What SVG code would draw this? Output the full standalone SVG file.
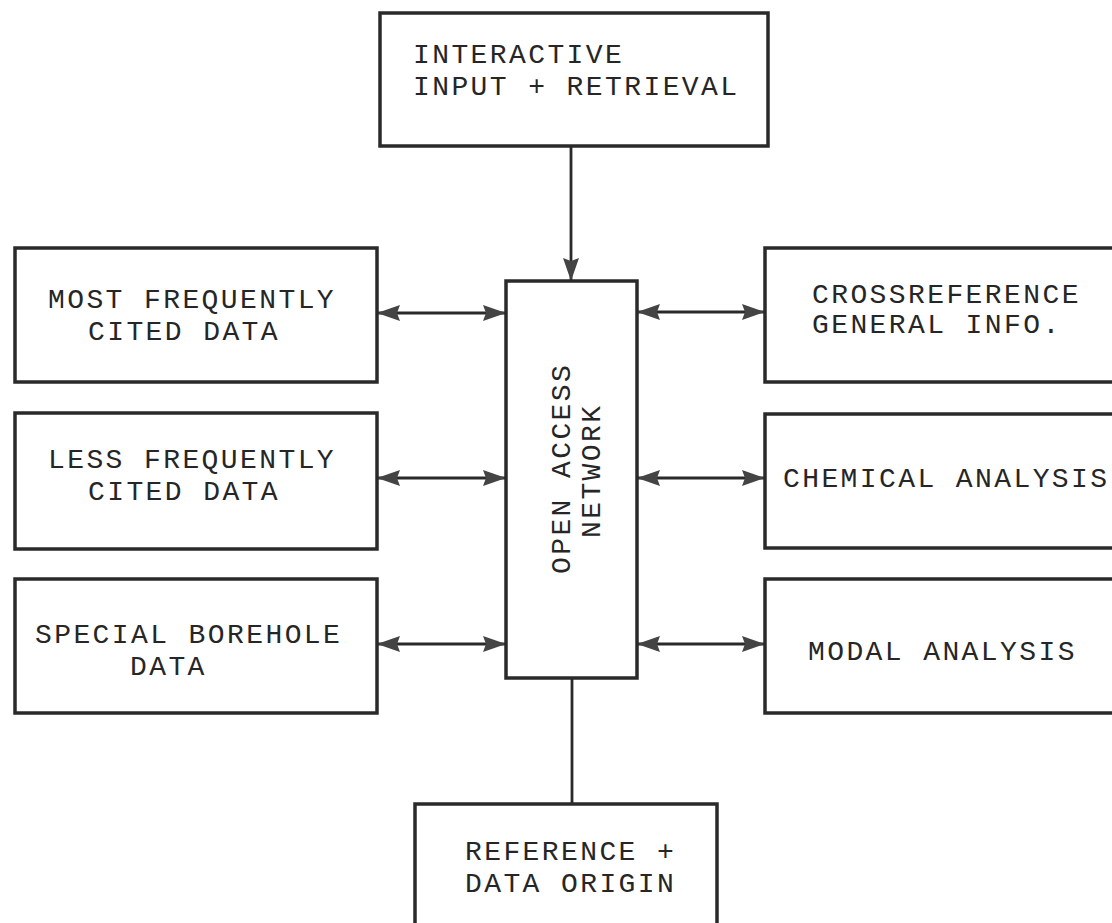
<svg xmlns="http://www.w3.org/2000/svg" width="1112" height="923" viewBox="0 0 1112 923">
<style>
.box{fill:#fff;stroke:#2a2a2a;stroke-width:3.5}
.t{font-family:"Liberation Mono","Courier New",monospace;font-size:28px;letter-spacing:2.4px;fill:#262626}
.c{stroke:#2a2a2a;stroke-width:2.8;fill:none}
</style>
<defs>
<marker id="ah" markerUnits="userSpaceOnUse" markerWidth="26" markerHeight="18" refX="23" refY="8" orient="auto-start-reverse" viewBox="0 0 26 18">
<path d="M0,0 L23,8 L0,16 L3,8 z" fill="#444"/>
</marker>
</defs>
<rect width="1112" height="923" fill="#fff"/>
<g id="connectors">
<line class="c" x1="571" y1="146" x2="571" y2="281" marker-end="url(#ah)"/>
<line class="c" x1="572" y1="678" x2="572" y2="804"/>
<line class="c" x1="377" y1="313" x2="506" y2="313" marker-start="url(#ah)" marker-end="url(#ah)"/>
<line class="c" x1="377" y1="478" x2="506" y2="478" marker-start="url(#ah)" marker-end="url(#ah)"/>
<line class="c" x1="377" y1="644" x2="506" y2="644" marker-start="url(#ah)" marker-end="url(#ah)"/>
<line class="c" x1="637" y1="312" x2="765" y2="312" marker-start="url(#ah)" marker-end="url(#ah)"/>
<line class="c" x1="637" y1="478" x2="765" y2="478" marker-start="url(#ah)" marker-end="url(#ah)"/>
<line class="c" x1="637" y1="644" x2="765" y2="644" marker-start="url(#ah)" marker-end="url(#ah)"/>
</g>
<g id="interactive">
<rect class="box" x="380" y="13" width="388" height="133"/>
<text class="t" x="413" y="63">INTERACTIVE</text>
<text class="t" x="413" y="95">INPUT + RETRIEVAL</text>
</g>
<g id="network">
<rect class="box" x="506" y="281" width="131" height="397"/>
<text class="t" transform="translate(570,574) rotate(-90)">OPEN ACCESS</text>
<text class="t" transform="translate(600,538) rotate(-90)">NETWORK</text>
</g>
<g id="most">
<rect class="box" x="15" y="248" width="362" height="134"/>
<text class="t" x="48" y="308">MOST FREQUENTLY</text>
<text class="t" x="88" y="340">CITED DATA</text>
</g>
<g id="less">
<rect class="box" x="15" y="413" width="362" height="136"/>
<text class="t" x="48" y="468">LESS FREQUENTLY</text>
<text class="t" x="88" y="500">CITED DATA</text>
</g>
<g id="borehole">
<rect class="box" x="15" y="579" width="362" height="134"/>
<text class="t" x="35" y="643">SPECIAL BOREHOLE</text>
<text class="t" x="130" y="675">DATA</text>
</g>
<g id="crossref">
<rect class="box" x="765" y="248" width="360" height="134"/>
<text class="t" x="812" y="303">CROSSREFERENCE</text>
<text class="t" x="812" y="333">GENERAL INFO.</text>
</g>
<g id="chemical">
<rect class="box" x="765" y="414" width="360" height="134"/>
<text class="t" x="783" y="487">CHEMICAL ANALYSIS</text>
</g>
<g id="modal">
<rect class="box" x="765" y="579" width="360" height="134"/>
<text class="t" x="808" y="660">MODAL ANALYSIS</text>
</g>
<g id="reference">
<rect class="box" x="415" y="804" width="302" height="140"/>
<text class="t" x="465" y="860">REFERENCE +</text>
<text class="t" x="465" y="892">DATA ORIGIN</text>
</g>
</svg>
